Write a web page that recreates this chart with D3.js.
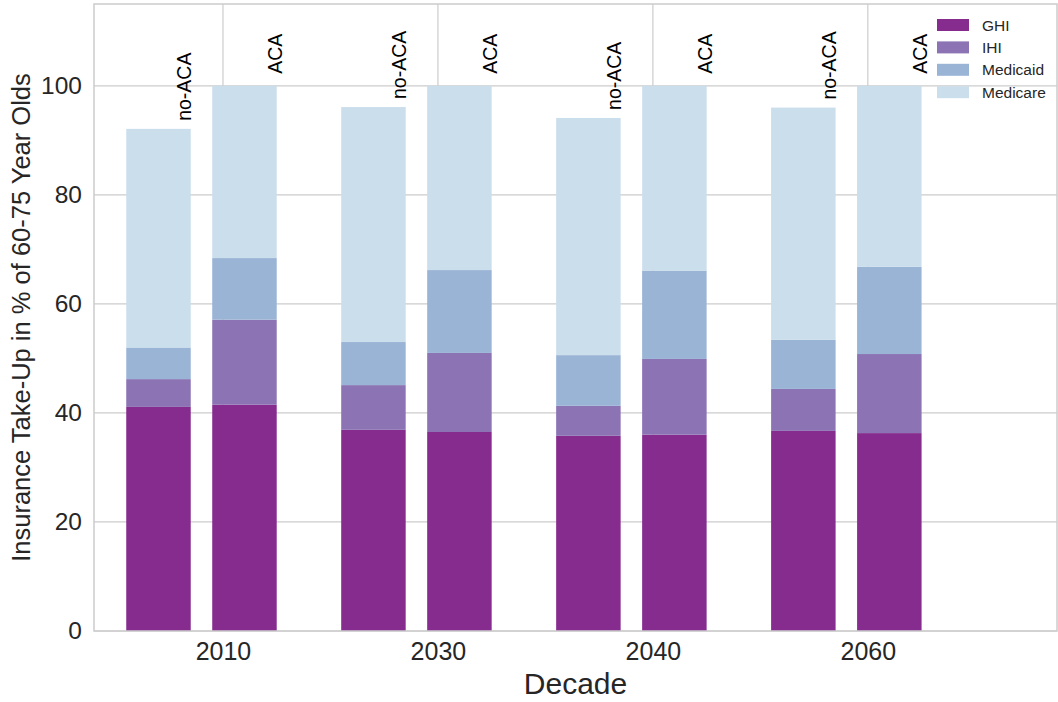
<!DOCTYPE html>
<html>
<head>
<meta charset="utf-8">
<script src="https://cdn.jsdelivr.net/npm/d3@7"></script>
<style>
  html, body { margin: 0; padding: 0; background: #ffffff; }
  svg { display: block; font-family: "Liberation Sans", Arial, sans-serif; }
</style>
</head>
<body>
<svg id="chart" width="1058" height="702"></svg>
<script>
// Decades on the x axis
const decades = ["2010", "2030", "2040", "2060"];
// Scenario per bar within each decade
const scenarios = ["no-ACA", "ACA"];
// Insurance types, stacked bottom to top
const insuranceTypes = ["GHI", "IHI", "Medicaid", "Medicare"];
// Share of 60-75 year olds per type (percent); one entry per decade
const ghiNoACA      = [41.1, 36.9, 35.8, 36.7];
const ihiNoACA      = [5.1, 8.2, 5.5, 7.7];
const medicaidNoACA = [5.8, 7.9, 9.3, 9.0];
const medicareNoACA = [40.1, 43.1, 43.5, 42.6];
const ghiACA        = [41.5, 36.5, 36.0, 36.3];
const ihiACA        = [15.6, 14.5, 13.9, 14.5];
const medicaidACA   = [11.3, 15.2, 16.2, 16.0];
const medicareACA   = [31.6, 33.8, 33.9, 33.2];
const yTicks = [0, 20, 40, 60, 80, 100];

const colors = {
  GHI: "#862c8f",
  IHI: "#8c73b4",
  Medicaid: "#9ab4d6",
  Medicare: "#cbdeec"
};
const textColor = "#262626";
const gridColor = "#cccccc";

// Rows: one per decade and scenario
const rows = [];
decades.forEach((d, i) => {
  rows.push({ decade: d, idx: i, scenario: "no-ACA",
    GHI: ghiNoACA[i], IHI: ihiNoACA[i], Medicaid: medicaidNoACA[i], Medicare: medicareNoACA[i] });
  rows.push({ decade: d, idx: i, scenario: "ACA",
    GHI: ghiACA[i], IHI: ihiACA[i], Medicaid: medicaidACA[i], Medicare: medicareACA[i] });
});
rows.forEach(r => { r.total = insuranceTypes.reduce((s, k) => s + r[k], 0); });

const svg = d3.select("#chart");
const plotLeft = 94, plotRight = 1057, plotTop = 4, plotBottom = 631;

const x = d3.scaleLinear().domain([-0.6, 3.88]).range([plotLeft, plotRight]);
const y = d3.scaleLinear().domain([0, 115]).range([plotBottom, plotTop]);

const barWidth = 0.3;
const offset = { "no-ACA": -0.45, "ACA": -0.05 };

// Grid lines
const g = svg.append("g");
g.selectAll("line.hgrid").data(yTicks).join("line")
  .attr("x1", plotLeft).attr("x2", plotRight)
  .attr("y1", d => y(d)).attr("y2", d => y(d))
  .attr("stroke", gridColor).attr("stroke-width", 1.2);
g.selectAll("line.vgrid").data(decades.map((d, i) => i)).join("line")
  .attr("x1", d => x(d)).attr("x2", d => x(d))
  .attr("y1", plotTop).attr("y2", plotBottom)
  .attr("stroke", gridColor).attr("stroke-width", 1.2);

// Stacked bars
const stack = d3.stack().keys(insuranceTypes)(rows);
svg.append("g").selectAll("g").data(stack).join("g")
  .attr("fill", s => colors[s.key])
  .selectAll("rect").data(s => s).join("rect")
  .attr("x", d => x(d.data.idx + offset[d.data.scenario]))
  .attr("width", d => x(d.data.idx + offset[d.data.scenario] + barWidth) - x(d.data.idx + offset[d.data.scenario]))
  .attr("y", d => y(d[1]))
  .attr("height", d => y(d[0]) - y(d[1]));

// Scenario labels above each bar
const labelShift = { "no-ACA": 0.5, "ACA": 5 };
const labelGap = { "no-ACA": 8, "ACA": 12 };
svg.append("g").selectAll("text").data(rows).join("text")
  .attr("transform", d => {
    const xr = x(d.idx + offset[d.scenario] + barWidth) + labelShift[d.scenario];
    const yt = y(d.total) - labelGap[d.scenario];
    return `translate(${xr},${yt}) rotate(-90)`;
  })
  .attr("text-anchor", "start")
  .attr("font-size", 19.5)
  .attr("fill", "#000")
  .text(d => d.scenario);

// Axes frame
svg.append("rect")
  .attr("x", plotLeft).attr("y", plotTop)
  .attr("width", plotRight - plotLeft).attr("height", plotBottom - plotTop)
  .attr("fill", "none").attr("stroke", gridColor).attr("stroke-width", 1.5);

// Y tick labels
const yAxis = d3.axisLeft(y).tickValues(yTicks).tickSize(0).tickPadding(12);
const ya = svg.append("g").attr("transform", `translate(${plotLeft},0)`).call(yAxis);
ya.select(".domain").remove();
ya.selectAll("text").attr("font-size", 24.5).attr("fill", textColor)
  .attr("font-family", "Liberation Sans, Arial, sans-serif");

// X tick labels
const xAxis = d3.axisBottom(x).tickValues(decades.map((d, i) => i))
  .tickFormat(i => decades[i]).tickSize(0).tickPadding(11);
const xa = svg.append("g").attr("transform", `translate(0,${plotBottom})`).call(xAxis);
xa.select(".domain").remove();
xa.selectAll("text").attr("font-size", 25).attr("fill", textColor)
  .attr("font-family", "Liberation Sans, Arial, sans-serif");

// Axis titles
svg.append("text")
  .attr("x", (plotLeft + plotRight) / 2).attr("y", 694)
  .attr("text-anchor", "middle").attr("font-size", 30).attr("fill", textColor)
  .text("Decade");
svg.append("text")
  .attr("transform", `translate(30,${(plotTop + plotBottom) / 2}) rotate(-90)`)
  .attr("text-anchor", "middle").attr("font-size", 25.5).attr("fill", textColor)
  .text("Insurance Take-Up in % of 60-75 Year Olds");

// Legend
const legend = svg.append("g").attr("transform", "translate(937,19)");
const items = legend.selectAll("g").data(insuranceTypes).join("g")
  .attr("transform", (d, i) => `translate(0,${i * 22.4})`);
items.append("rect").attr("width", 32).attr("height", 12)
  .attr("fill", d => colors[d]);
items.append("text").attr("x", 45).attr("y", 11.5)
  .attr("font-size", 15.5).attr("fill", textColor).text(d => d);
</script>
</body>
</html>
